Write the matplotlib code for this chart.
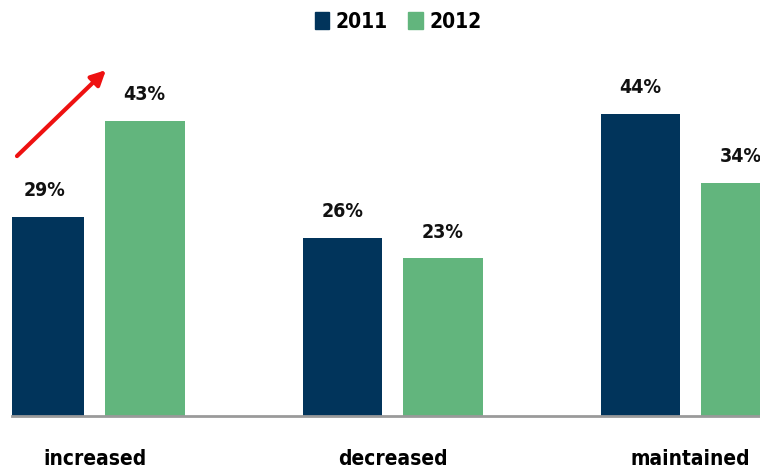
import matplotlib.pyplot as plt
import numpy as np
from matplotlib.patches import Patch

categories = ["increased", "decreased", "maintained"]
series_names = ["2011", "2012"]
values_2011 = [29, 26, 44]
values_2012 = [43, 23, 34]

navy = "#01345B"
green = "#62B57D"

plt.rcParams['font.family'] = ['Liberation Sans Narrow', 'DejaVu Sans']
plt.rcParams['font.stretch'] = 'condensed'

fig = plt.figure(figsize=(7.6, 4.68), dpi=100)
ax = fig.add_axes([12 / 760, 52 / 468, 748 / 760, 376 / 468])

x = np.arange(len(categories))
width = 0.268
offset = 0.168

bars1 = ax.bar(x - offset, values_2011, width, color=navy)
bars2 = ax.bar(x + offset, values_2012, width, color=green)

for bars in (bars1, bars2):
    for b in bars:
        ax.annotate(f"{b.get_height():.0f}%",
                    (b.get_x() + b.get_width() / 2, b.get_height()),
                    xytext=(0, 12), textcoords="offset points",
                    ha="center", va="bottom", fontsize=14, fontweight="bold",
                    color="#111111", clip_on=False)

ax.set_xlim(-0.277, 2.233)
ax.set_ylim(0, 54.8)

ax.set_xticks(x)
ax.set_xticklabels(categories, fontsize=15, fontweight="bold")
ax.tick_params(axis="x", length=0, pad=24)
ax.set_yticks([])

for s in ["top", "left", "right"]:
    ax.spines[s].set_visible(False)
ax.spines["bottom"].set_color("#9a9a9a")
ax.spines["bottom"].set_linewidth(2)

# red arrow pointing up over "increased"
ax.annotate("", xy=(0.045, 50.7), xytext=(-0.267, 37.6),
            arrowprops=dict(arrowstyle="-|>", color="#ee1111", lw=3,
                            mutation_scale=22),
            annotation_clip=False)

handles = [Patch(color=navy), Patch(color=green)]
fig.legend(handles, series_names, loc="center", bbox_to_anchor=(398 / 760, 1 - 22 / 468),
           ncol=2, frameon=False, handlelength=0.7, handleheight=0.9,
           handletextpad=0.3, columnspacing=1.0,
           prop={"size": 15, "weight": "bold", "stretch": "condensed"})

fig.savefig("out.png", dpi=100)
